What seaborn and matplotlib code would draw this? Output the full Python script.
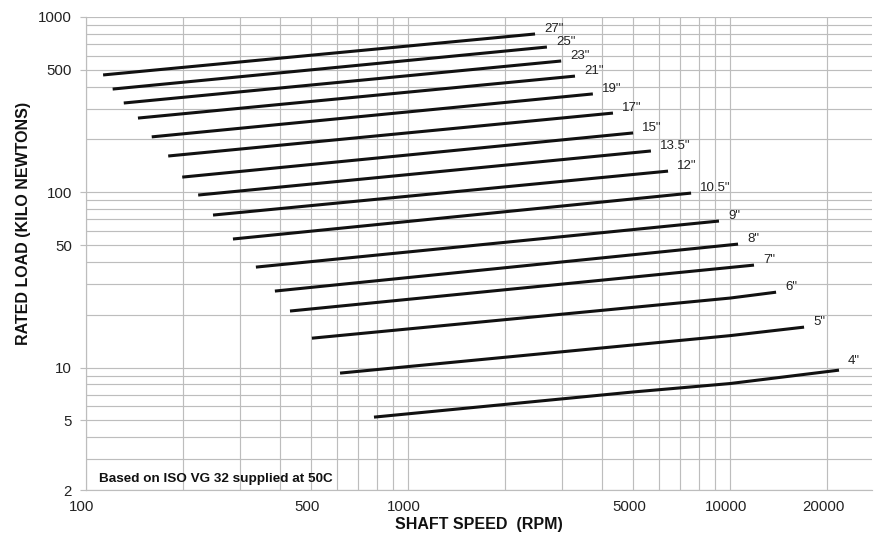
import numpy as np
import pandas as pd
import matplotlib
matplotlib.use("Agg")
import matplotlib.pyplot as plt
import matplotlib.ticker as mticker
import matplotlib.transforms as mtrans
import seaborn as sns

# ---- data ----
sizes = ['27"', '25"', '23"', '21"', '19"', '17"', '15"', '13.5"', '12"',
         '10.5"', '9"', '8"', '7"', '6"', '5"', '4"']
start_rpm = [113, 121, 131, 145, 160, 180, 199, 223, 248, 286, 337, 386, 430, 503, 615, 784]
start_load = [467, 388, 323, 265, 207, 161, 122, 96.4, 74.1, 54.1, 37.4, 27.3, 21.0, 14.7, 9.29, 5.21]
end_rpm = [2480, 2700, 2990, 3300, 3750, 4330, 5000, 5680, 6420, 7570, 9240, 10590, 11870,
           13900, 16980, 21800]
end_load = [800, 674, 561, 460, 364, 283, 218, 172, 132, 98.9, 68.5, 50.6, 38.4, 26.9, 17.0, 9.66]
# extra readings where the small-bearing curves bend upward
bend_sizes = ['6"', '5"', '4"', '4"']
bend_rpm = [10000, 10000, 5000, 10000]
bend_load = [24.9, 15.2, 7.25, 8.1]

x_ticks = [100, 500, 1000, 5000, 10000, 20000]
y_ticks = [2, 5, 10, 50, 100, 500, 1000]
note = "Based on ISO VG 32 supplied at 50C"

# ---- build long-form table ----
rows = []
for s, x0, y0, x1, y1 in zip(sizes, start_rpm, start_load, end_rpm, end_load):
    rows.append((s, x0, y0))
    rows.append((s, x1, y1))
for s, x, y in zip(bend_sizes, bend_rpm, bend_load):
    rows.append((s, x, y))
df = pd.DataFrame(rows, columns=["size", "rpm", "load"])

sns.set_theme(style="white")
plt.rcParams['font.family'] = ['Liberation Sans', 'DejaVu Sans']

fig = plt.figure(figsize=(8.74, 5.34), dpi=100)
ax = fig.add_axes([86 / 874, 44 / 534, 786 / 874, 473 / 534])
ax.set_xscale('log')
ax.set_yscale('log')

sns.lineplot(data=df, x="rpm", y="load", hue="size", hue_order=sizes,
             palette={s: '#111111' for s in sizes}, estimator=None, sort=True,
             legend=False, linewidth=2.2, ax=ax)
for ln in ax.lines:
    ln.set_solid_capstyle('butt')
    ln.set_solid_joinstyle('round')

for s, x1, y1 in zip(sizes, end_rpm, end_load):
    off = (6.0, 6.3) if s == '4"' else (6.5, 3.6)
    ax.annotate(s, xy=(x1, y1), xytext=off, textcoords='offset points',
                ha='left', va='center', fontsize=9.5, color='#222222')

ax.set_xlim(100, 27600)
ax.set_ylim(2, 1000)

grid_c = '#bdbdbd'
ax.xaxis.set_major_locator(mticker.FixedLocator(x_ticks))
ax.xaxis.set_major_formatter(mticker.FixedFormatter([str(v) for v in x_ticks]))
ax.xaxis.set_minor_locator(mticker.LogLocator(base=10, subs=np.arange(1, 10), numticks=50))
ax.xaxis.set_minor_formatter(mticker.NullFormatter())
ax.yaxis.set_major_locator(mticker.FixedLocator(y_ticks))
ax.yaxis.set_major_formatter(mticker.FixedFormatter([str(v) for v in y_ticks]))
ax.yaxis.set_minor_locator(mticker.LogLocator(base=10, subs=np.arange(1, 10), numticks=50))
ax.yaxis.set_minor_formatter(mticker.NullFormatter())

ax.grid(which='both', color=grid_c, linewidth=0.85)
ax.set_axisbelow(True)

ax.tick_params(axis='x', which='major', length=0, pad=7, labelsize=10.8, labelcolor='#222222')
ax.tick_params(axis='y', which='major', length=4.5, width=0.85, color=grid_c, pad=5.5,
               labelsize=10.8, labelcolor='#222222', left=True)
ax.tick_params(which='minor', length=0)

shift = mtrans.ScaledTranslation(-4 / 100, 0, fig.dpi_scale_trans)
for lab in ax.get_xticklabels():
    lab.set_transform(lab.get_transform() + shift)

for side in ['top', 'right']:
    ax.spines[side].set_visible(False)
for side in ['left', 'bottom']:
    ax.spines[side].set_color(grid_c)
    ax.spines[side].set_linewidth(0.85)

ax.set_xlabel('SHAFT SPEED  (RPM)', fontweight='bold', fontsize=11.5, color='#111111')
ax.xaxis.set_label_coords(0.5, -0.058)
ax.set_ylabel('RATED LOAD (KILO NEWTONS)', fontweight='bold', fontsize=11.5, color='#111111')
ax.yaxis.set_label_coords(-0.070, 0.563)

ax.text(0.0165, 0.017, note, transform=ax.transAxes, fontweight='bold',
        fontsize=9.7, va='baseline', ha='left', color='#111111')

fig.savefig('out.png', dpi=100)
